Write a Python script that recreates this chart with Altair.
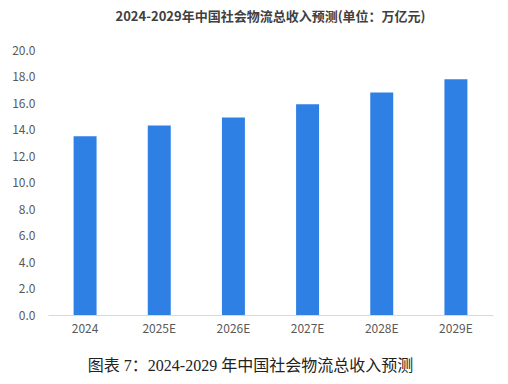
import altair as alt
import pandas as pd

categories = ["2024", "2025E", "2026E", "2027E", "2028E", "2029E"]
values = [13.5, 14.3, 14.9, 15.9, 16.8, 17.8]
y_ticks = [0, 2, 4, 6, 8, 10, 12, 14, 16, 18, 20]

df = pd.DataFrame({"year": categories, "value": values})

FONT = "Noto Sans CJK SC"

chart = alt.Chart(df).mark_bar(color="#2F80E4").encode(
    x=alt.X(
        "year:N",
        sort=categories,
        scale=alt.Scale(paddingInner=0.69, paddingOuter=0.345),
        axis=alt.Axis(
            title="图表 7：2024-2029 年中国社会物流总收入预测",
            titleFont="Liberation Serif, Noto Sans CJK SC",
            titleFontSize=16,
            titleFontWeight="normal",
            titleColor="#222222",
            titleX=202,
            titleY=50,
            titleAlign="center",
            titleBaseline="middle",
            labelAngle=0,
            labelFont=FONT,
            labelFontSize=12,
            labelColor="#595959",
            labelPadding=8,
            ticks=False,
            domainColor="#D9D9D9",
            domainWidth=1,
        ),
    ),
    y=alt.Y(
        "value:Q",
        scale=alt.Scale(domain=[0, 20], nice=False),
        axis=alt.Axis(
            title=None,
            values=y_ticks,
            format=".1f",
            labelFont=FONT,
            labelFontSize=12,
            labelColor="#595959",
            labelPadding=13,
            ticks=False,
            domain=False,
            grid=False,
        ),
    ),
).properties(
    width=445,
    height=265,
    background="white",
    title=alt.TitleParams(
        "2024-2029年中国社会物流总收入预测(单位：万亿元)",
        font=FONT,
        fontSize=13,
        fontWeight="bold",
        color="#404040",
        anchor="middle",
        offset=20,
    ),
    autosize=alt.AutoSizeParams(type="none"),
    padding={"left": 48, "top": 50, "right": 15, "bottom": 69},
).configure_view(stroke=None, strokeWidth=0)

chart.save("out.html", embed_options={"renderer": "svg", "actions": False})
